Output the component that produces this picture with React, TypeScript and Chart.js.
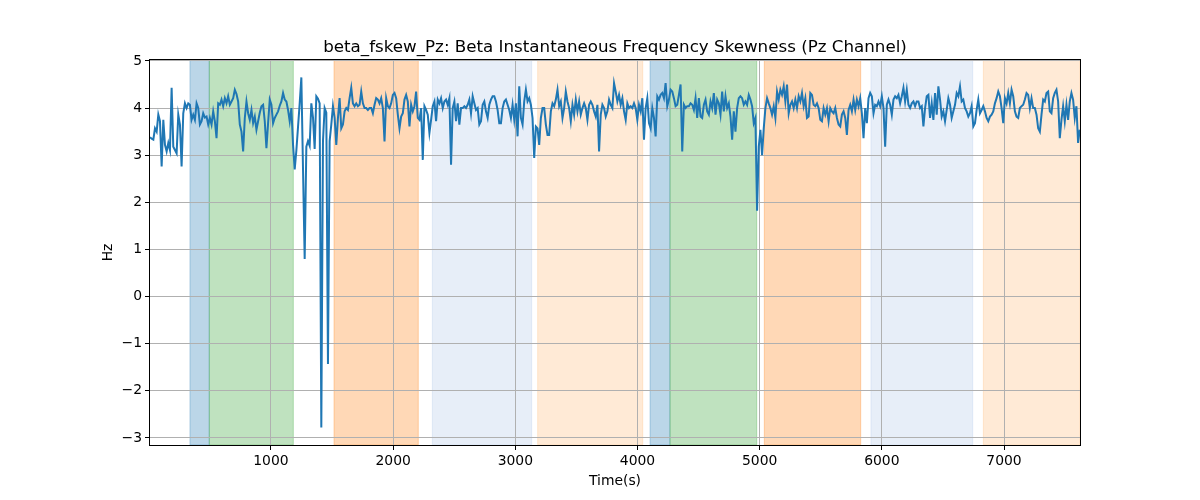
import React, { useEffect, useRef } from "react";
import { Chart, registerables } from "chart.js";

Chart.register(...registerables);

const skewSeg1 = [
  3.38, 3.35, 3.33, 3.57, 3.5, 3.86, 3.72, 2.76, 3.75, 3.22, 3.08,
  3.26, 3.11, 4.43, 3.18, 3.11, 3.04, 3.86, 3.65, 2.76, 3.89,
  4.1, 4.0, 4.1, 4.07, 3.75, 3.86, 3.75, 4.1, 4.0, 3.65,
  3.72, 3.89, 3.8, 3.82, 3.65, 3.79, 3.65, 3.93, 3.72, 3.36, 4.1,
  4.07, 4.18, 4.04, 4.21, 4.1, 4.25, 4.07, 4.14, 4.21, 4.39, 4.3,
  4.14, 3.65, 3.5, 3.08, 3.79, 4.14, 3.89, 3.75, 3.96, 3.68,
  3.82, 3.54, 3.72, 3.9, 4.04, 4.07, 3.72, 3.15, 3.68, 4.18, 4.07,
  3.68, 3.79, 3.86, 3.93, 4.05, 4.14, 4.32, 4.18, 4.14, 3.96, 3.72,
  4.0, 3.22, 2.7, 3.1, 3.6, 4.1, 4.65, 2.7, 0.8,
];
const skewSeg2 = [
  3.18, 3.3, 3.2, 4.1, 3.8, 3.13, 4.25, 4.2, 4.1, -2.78, 3.3,
  4.0, 3.9, -1.43, 3.3, 3.65, 4.04, 3.79, 3.22, 3.79, 4.21, 3.57,
  3.65, 3.93, 4.0, 3.96, 4.21, 4.43, 4.1, 4.04, 4.1, 4.04,
  4.07, 4.35, 4.1, 4.0, 4.0, 3.96, 4.0, 4.0, 3.89, 4.07,
  4.21, 4.18, 4.1, 4.21, 4.0, 3.29, 4.21, 4.04, 4.0, 4.1,
  4.28, 4.32, 4.21, 3.86, 3.57, 3.82, 3.89, 4.18, 4.28, 4.14,
  3.61, 4.07, 3.93, 4.04, 4.35, 3.79, 3.75, 4.0, 2.9, 4.04,
  3.96, 3.86, 3.47, 3.75, 4.04, 4.14, 3.72, 4.18, 4.1, 4.21,
  4.0, 4.14, 4.18, 4.07, 4.21, 2.8, 4.0, 4.14, 3.72, 4.1,
  3.65,
];
const skewSeg3 = [
  4.0, 4.0, 4.04, 4.0, 4.07, 4.18, 3.89, 4.25, 4.1, 3.96,
  4.0, 3.65, 3.72, 4.07, 4.14, 3.93, 3.79, 4.07, 4.18, 4.25,
  4.25, 4.14, 3.96, 3.68, 3.68, 4.0, 4.14, 4.18, 4.07, 3.96,
  3.79, 4.07, 3.75, 4.1, 3.4, 4.46, 3.79, 3.65, 4.14, 4.39,
  4.14, 4.21, 4.07, 3.79, 2.94, 3.61, 3.57, 3.22, 3.79, 4.0,
  4.0, 3.65, 3.43, 3.43, 3.93, 4.1, 4.04, 4.18, 4.39, 4.04,
  4.14, 3.79, 4.0, 4.35, 4.14, 4.0, 3.72, 4.07, 3.86, 4.18,
  3.93, 4.14, 3.86, 4.0, 4.1, 4.0, 3.75, 4.07, 4.14, 4.07,
  3.93, 3.82, 4.07, 3.08, 3.86, 4.07, 4.0, 3.82, 3.93, 4.18,
  4.07, 4.0, 4.53,
];
const skewSeg4 = [
  4.35, 4.14, 4.28, 4.07, 4.21, 3.93, 3.75, 4.1, 4.0, 4.04,
  4.0, 4.1, 4.0, 3.75, 4.07, 3.93, 4.21, 3.33, 4.0, 4.21,
  3.68, 3.57, 4.0, 3.79, 3.4, 4.25, 4.18, 4.28, 4.32, 4.21,
  4.53, 4.04, 4.18, 4.39, 4.35, 4.21, 4.04, 4.07, 4.28, 4.5,
  3.08, 4.07, 4.0, 4.04, 4.04, 4.1, 4.07, 3.96, 4.21, 3.79,
  4.21, 3.82, 3.79, 4.07, 4.18, 3.93, 3.86, 4.14, 4.0, 4.32,
  3.86, 4.18, 4.1, 3.86, 4.35, 3.93, 4.25, 4.0, 4.1, 3.82,
  3.33, 3.93, 3.5, 4.0, 4.21, 4.25, 4.21, 4.07, 4.14, 4.07,
  4.28, 4.18, 4.04, 3.68, 3.79, 1.82, 3.18, 3.54, 3.0, 3.57,
  4.0, 4.21, 4.1,
];
const skewSeg5 = [
  4.0, 3.86, 4.04, 3.79, 4.35, 4.18, 4.39, 4.28, 4.46, 4.14,
  4.5, 3.89, 4.07, 4.14, 4.0, 4.18, 4.0, 4.25, 4.14, 4.32,
  4.04, 4.21, 3.79, 3.82, 4.32, 4.28, 4.07, 4.04, 4.1, 4.0,
  3.75, 3.72, 4.0, 3.86, 4.0, 3.72, 4.0, 3.93, 3.89, 4.0,
  3.79, 3.65, 3.61, 3.86, 3.93, 3.79, 3.43, 3.96, 4.07, 3.93,
  4.18, 3.96, 4.18, 4.04, 4.21, 3.89, 3.36, 4.0, 3.68, 4.21,
  4.32, 4.25, 3.89, 4.07, 4.04, 4.14, 4.04, 4.25, 4.0, 3.18,
  4.07, 4.18, 4.07, 3.86, 4.18, 4.25, 4.21, 4.28, 4.1, 4.25,
  4.43, 4.14, 4.39, 4.07, 4.0, 4.1, 4.14, 4.04, 4.14, 4.14,
  4.0, 4.04, 3.61, 4.0,
];
const skewSeg6 = [
  4.25, 4.28, 3.79, 4.1, 3.75, 4.32, 3.86, 4.46, 4.18, 3.82,
  3.93, 3.72, 3.96, 4.21, 4.07, 3.79, 3.93, 4.07, 4.32, 4.25,
  4.46, 4.14, 4.18, 4.0, 3.93, 3.82, 3.89, 4.04, 3.61, 3.68,
  3.96, 4.18, 3.89, 3.96, 4.04, 3.93, 3.79, 3.72, 3.82, 3.86,
  3.93, 4.1, 4.21, 4.35, 4.25, 4.0, 3.68, 4.21, 4.1, 4.32,
  4.1, 4.39, 4.25, 3.93, 3.82, 3.79, 4.0, 4.04, 4.07, 4.18,
  4.32, 4.28, 4.0, 4.21, 4.0, 4.0, 3.86, 3.57, 3.5, 3.86,
  4.18, 4.14, 4.32, 4.35, 3.93, 3.89, 4.21, 4.32, 4.39, 4.14,
  3.36, 3.75, 4.04, 3.72, 4.07, 3.75, 4.14, 4.32, 4.18, 3.79,
  4.04, 3.26, 3.54,
];

// Sampling window (seconds)
const timeStart = 10;
const timeEnd = 7620;

// Shaded intervals (seconds)
const spanStarts = [337, 495, 1516, 2321, 3183, 4103, 4266, 5038, 5911, 6831];
const spanEnds = [495, 1183, 2206, 3134, 4043, 4266, 4976, 5827, 6744, 7622];
const spanKinds = ["blue", "green", "orange", "lightblue", "lightorange", "blue", "green", "orange", "lightblue", "lightorange"];

// Axis ticks
const xTickValues = [1000, 2000, 3000, 4000, 5000, 6000, 7000];
const yTickValues = [-3, -2, -1, 0, 1, 2, 3, 4, 5];

const TITLE = "beta_fskew_Pz: Beta Instantaneous Frequency Skewness (Pz Channel)";
const X_LABEL = "Time(s)";
const Y_LABEL = "Hz";

const KIND_COLORS: Record<string, string> = {
  blue: "rgba(31,119,180,0.3)",
  green: "rgba(44,160,44,0.3)",
  orange: "rgba(255,127,14,0.3)",
  lightblue: "rgba(174,199,232,0.3)",
  lightorange: "rgba(255,187,120,0.3)",
};

const FONT = "'DejaVu Sans', sans-serif";

export default function App() {
  const canvasRef = useRef<HTMLCanvasElement | null>(null);

  useEffect(() => {
    document.body.style.margin = "0";
    const canvas = canvasRef.current;
    if (!canvas) return;

    const values = [...skewSeg1, ...skewSeg2, ...skewSeg3, ...skewSeg4, ...skewSeg5, ...skewSeg6];
    const n = values.length;
    const step = (timeEnd - timeStart) / (n - 1);
    const points = values.map((v, i) => ({ x: timeStart + i * step, y: v }));

    const spansPlugin = {
      id: "spans",
      beforeDraw(chart: any) {
        const { ctx, chartArea, scales } = chart;
        const xs = scales.x;
        ctx.save();
        ctx.beginPath();
        ctx.rect(chartArea.left, chartArea.top, chartArea.right - chartArea.left, chartArea.bottom - chartArea.top);
        ctx.clip();
        for (let i = 0; i < spanStarts.length; i++) {
          const x0 = xs.getPixelForValue(spanStarts[i]);
          const x1 = xs.getPixelForValue(spanEnds[i]);
          ctx.fillStyle = KIND_COLORS[spanKinds[i]];
          ctx.fillRect(x0, chartArea.top, x1 - x0, chartArea.bottom - chartArea.top);
          ctx.strokeStyle = KIND_COLORS[spanKinds[i]];
          ctx.lineWidth = 1;
          ctx.strokeRect(x0, chartArea.top, x1 - x0, chartArea.bottom - chartArea.top);
        }
        ctx.restore();
      },
      afterDraw(chart: any) {
        const { ctx, chartArea } = chart;
        const { left, right, top, bottom } = chartArea;
        ctx.save();
        ctx.strokeStyle = "#000";
        ctx.lineWidth = 1;
        ctx.strokeRect(Math.round(left) - 0.5, Math.round(top) - 0.5, Math.round(right - left) + 1, Math.round(bottom - top) + 1);
        ctx.fillStyle = "#000";
        ctx.font = `16.7px ${FONT}`;
        ctx.textAlign = "center";
        ctx.textBaseline = "alphabetic";
        ctx.fillText(TITLE, (left + right) / 2, top - 8);
        ctx.font = `13.9px ${FONT}`;
        ctx.textBaseline = "middle";
        ctx.fillText(X_LABEL, (left + right) / 2, bottom + 36);
        ctx.translate(left - 42, (top + bottom) / 2);
        ctx.rotate(-Math.PI / 2);
        ctx.fillText(Y_LABEL, 0, 0);
        ctx.restore();
      },
    };

    const chart = new Chart(canvas, {
      type: "line",
      data: {
        datasets: [
          {
            data: points,
            borderColor: "#1f77b4",
            borderWidth: 2,
            pointRadius: 0,
            tension: 0,
            fill: false,
          },
        ],
      },
      options: {
        responsive: false,
        animation: false,
        events: [],
        layout: { padding: { left: 0, right: 120, top: 60, bottom: 0 } },
        plugins: {
          legend: { display: false },
          title: { display: false },
          tooltip: { enabled: false },
        },
        scales: {
          x: {
            type: "linear",
            min: 10,
            max: 7622,
            afterBuildTicks: (scale: any) => {
              scale.ticks = xTickValues.map((v) => ({ value: v }));
            },
            afterFit: (scale: any) => {
              scale.height = 55;
            },
            border: { display: false },
            grid: { color: "#b0b0b0", lineWidth: 1, tickColor: "#000", tickLength: 5, drawTicks: true },
            ticks: {
              color: "#000",
              font: { family: FONT, size: 13.9 },
              padding: 3,
              maxRotation: 0,
              autoSkip: false,
              callback: (v: any) => String(v),
            },
          },
          y: {
            type: "linear",
            min: -3.15,
            max: 5.02,
            afterBuildTicks: (scale: any) => {
              scale.ticks = yTickValues.map((v) => ({ value: v }));
            },
            afterFit: (scale: any) => {
              scale.width = 150;
            },
            border: { display: false },
            grid: { color: "#b0b0b0", lineWidth: 1, tickColor: "#000", tickLength: 5, drawTicks: true },
            ticks: {
              color: "#000",
              font: { family: FONT, size: 13.9 },
              padding: 3,
              autoSkip: false,
              callback: (v: any) => (v < 0 ? "\u2212" + Math.abs(v) : String(v)),
            },
          },
        },
      },
      plugins: [spansPlugin],
    });

    return () => chart.destroy();
  }, []);

  return (
    <div style={{ width: 1200, height: 500 }}>
      <canvas ref={canvasRef} width={1200} height={500} style={{ display: "block" }} />
    </div>
  );
}
